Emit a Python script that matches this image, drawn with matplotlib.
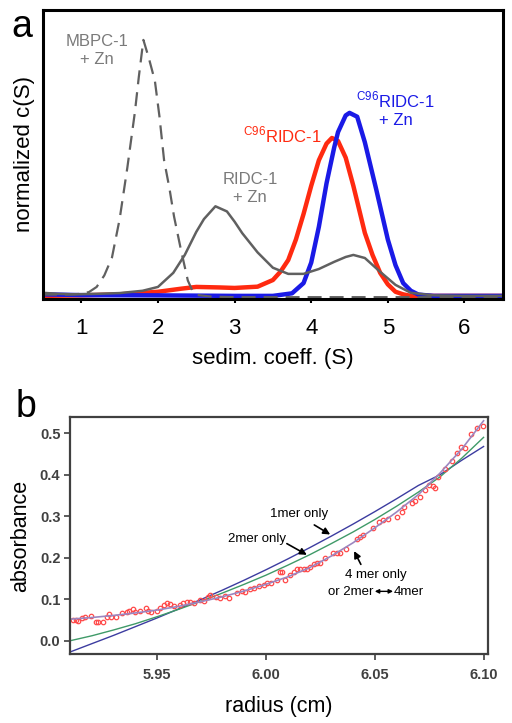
import matplotlib
matplotlib.use("Agg")
import matplotlib.pyplot as plt

plt.rcParams['font.family'] = ['Liberation Sans', 'DejaVu Sans']
plt.rcParams['mathtext.fontset'] = 'custom'
plt.rcParams['mathtext.rm'] = 'Liberation Sans'

# ---- panel a: c(S) distributions ----
mbpc_s = [0.5, 0.8, 1.0, 1.1, 1.2, 1.3, 1.4, 1.5, 1.6, 1.7, 1.75, 1.81, 1.88, 1.96, 2.02,
          2.08, 2.15, 2.21, 2.3, 2.39, 2.45, 2.5, 2.7, 3.0, 4.0, 5.0, 6.5]
mbpc_c = [0.005, 0.005, 0.008, 0.015, 0.035, 0.08, 0.15, 0.30, 0.50, 0.72, 0.855, 1.0, 0.93,
          0.84, 0.70, 0.53, 0.42, 0.31, 0.18, 0.06, 0.02, 0.004, -0.003, -0.005, -0.005, -0.005, -0.005]

ridc_s = [0.5, 0.7, 0.9, 1.2, 1.5, 1.8, 2.0, 2.2, 2.35, 2.5, 2.6, 2.75, 2.9, 3.0, 3.1, 3.3, 3.5,
          3.7, 3.9, 4.1, 4.3, 4.45, 4.55, 4.7, 4.9, 5.1, 5.3, 5.6, 6.0, 6.5]
ridc_c = [0.012, 0.008, 0.006, 0.008, 0.011, 0.02, 0.035, 0.09, 0.16, 0.25, 0.30, 0.35, 0.33,
          0.29, 0.245, 0.17, 0.11, 0.086, 0.086, 0.105, 0.133, 0.152, 0.16, 0.148, 0.094, 0.043,
          0.012, 0.002, 0.0, 0.0]

c96_s = [0.5, 1.0, 1.5, 2.0, 2.3, 2.5, 2.8, 3.0, 3.3, 3.5, 3.6, 3.7, 3.8, 3.9, 4.0, 4.1, 4.2,
         4.27, 4.35, 4.45, 4.55, 4.7, 4.8, 4.9, 5.0, 5.1, 5.2, 5.3, 5.5, 6.5]
c96_c = [0.0, 0.002, 0.006, 0.016, 0.028, 0.035, 0.033, 0.031, 0.036, 0.062, 0.095, 0.14, 0.22,
         0.32, 0.43, 0.53, 0.595, 0.617, 0.605, 0.54, 0.43, 0.246, 0.16, 0.09, 0.045, 0.016,
         0.006, 0.0, 0.0, 0.0]

c96zn_s = [0.5, 1.0, 2.0, 2.5, 3.0, 3.5, 3.75, 3.9, 4.0, 4.05, 4.1, 4.2, 4.3, 4.35, 4.45, 4.5,
           4.6, 4.7, 4.85, 5.0, 5.1, 5.2, 5.3, 5.4, 5.6, 6.5]
c96zn_c = [0.006, 0.003, 0.002, 0.001, 0.0, 0.0, 0.01, 0.05, 0.13, 0.2, 0.27, 0.44, 0.58, 0.64,
           0.705, 0.715, 0.70, 0.60, 0.414, 0.22, 0.12, 0.05, 0.02, 0.005, 0.0, 0.0]

# ---- panel b: absorbance scan and fits ----
radius = [5.9115, 5.9125, 5.9136, 5.9156, 5.917, 5.9197, 5.9217, 5.923, 5.925, 5.927, 5.928,
          5.929, 5.931, 5.934, 5.936, 5.937, 5.939, 5.940, 5.942, 5.9447, 5.946, 5.947, 5.9497,
          5.9515, 5.953, 5.9546, 5.956, 5.9576, 5.9607, 5.962, 5.9638, 5.965, 5.9668, 5.9696,
          5.9717, 5.9732, 5.9745, 5.9768, 5.9787, 5.9813, 5.9829, 5.9867, 5.989, 5.9905, 5.9925,
          5.9947, 5.9966, 5.999, 6.0005, 6.0023, 6.005, 6.0063, 6.0073, 6.0089, 6.0112, 6.0127,
          6.0142, 6.0157, 6.0173, 6.0188, 6.0203, 6.0219, 6.0234, 6.0249, 6.0272, 6.031, 6.0326,
          6.034, 6.0368, 6.0417, 6.0433, 6.0448, 6.0491, 6.052, 6.054, 6.056, 6.060, 6.0624,
          6.0635, 6.067, 6.0685, 6.071, 6.073, 6.075, 6.0766, 6.0777, 6.0792, 6.0823, 6.0853,
          6.0876, 6.0894, 6.0914, 6.094, 6.0968, 6.0998]
absorb = [0.051, 0.050, 0.047, 0.054, 0.058, 0.059, 0.046, 0.046, 0.046, 0.058, 0.064, 0.058,
          0.058, 0.066, 0.070, 0.072, 0.076, 0.070, 0.072, 0.080, 0.072, 0.070, 0.072, 0.080,
          0.086, 0.090, 0.088, 0.084, 0.086, 0.090, 0.093, 0.093, 0.090, 0.098, 0.096, 0.106,
          0.110, 0.106, 0.104, 0.108, 0.102, 0.116, 0.121, 0.118, 0.124, 0.126, 0.132, 0.134,
          0.140, 0.140, 0.146, 0.166, 0.165, 0.146, 0.158, 0.166, 0.172, 0.172, 0.173, 0.174,
          0.178, 0.185, 0.188, 0.188, 0.199, 0.211, 0.212, 0.211, 0.220, 0.244, 0.249, 0.254,
          0.271, 0.285, 0.291, 0.293, 0.297, 0.311, 0.323, 0.333, 0.337, 0.347, 0.363, 0.375,
          0.373, 0.367, 0.395, 0.413, 0.434, 0.452, 0.466, 0.464, 0.498, 0.512, 0.518]

r_fit = [5.91, 5.92, 5.93, 5.94, 5.95, 5.96, 5.97, 5.98, 5.99, 6.00, 6.01, 6.02, 6.03, 6.04,
         6.05, 6.06, 6.07, 6.08, 6.09, 6.10]
fit_1mer = [-0.027, -0.007, 0.013, 0.034, 0.055, 0.077, 0.099, 0.122, 0.146, 0.171, 0.197,
            0.224, 0.252, 0.281, 0.311, 0.342, 0.374, 0.40, 0.435, 0.468]
fit_2mer = [0.0, 0.012, 0.026, 0.041, 0.058, 0.076, 0.095, 0.115, 0.136, 0.158, 0.182, 0.207,
            0.234, 0.262, 0.292, 0.324, 0.358, 0.395, 0.44, 0.49]
fit_4mer = [0.052, 0.056, 0.061, 0.067, 0.074, 0.083, 0.094, 0.106, 0.12, 0.136, 0.154, 0.176,
            0.204, 0.236, 0.272, 0.31, 0.352, 0.404, 0.462, 0.53]

fig = plt.figure(figsize=(5.12, 7.23), dpi=100)

# panel a
ax1 = fig.add_axes([0.084, 0.5865, 0.898, 0.3997])
ax1.plot(c96_s, c96_c, color='#ff2a10', lw=3.2)
ax1.plot(c96zn_s, c96zn_c, color='#1a1ae6', lw=3.2)
ax1.plot(ridc_s, ridc_c, color='#606060', lw=1.8)
ax1.plot(mbpc_s, mbpc_c, color='#606060', lw=1.6, dashes=(6.3, 3.6))
ax1.set_xlim(0.5, 6.5)
ax1.set_ylim(-0.012, 1.117)
ax1.set_yticks([])
ax1.set_xticks([1, 2, 3, 4, 5, 6])
ax1.tick_params(axis='x', labelsize=16, length=3, width=1.5, pad=11)
for sp in ax1.spines.values():
    sp.set_linewidth(2.2)
ax1.set_xlabel('sedim. coeff. (S)', fontsize=16, labelpad=6)
ax1.set_ylabel('normalized c(S)', fontsize=16, labelpad=6)
ax1.text(1.2, 0.96, 'MBPC-1\n+ Zn', color='#7a7a7a', fontsize=12, ha='center', va='center',
         linespacing=1.25)
ax1.text(3.2, 0.42, 'RIDC-1\n+ Zn', color='#7a7a7a', fontsize=12, ha='center', va='center',
         linespacing=1.25)
ax1.text(3.62, 0.63, r'$^{\mathrm{C96}}$RIDC-1', color='#ff2a10', fontsize=12, ha='center',
         va='center')
ax1.text(5.1, 0.73, r'$^{\mathrm{C96}}$RIDC-1' + '\n+ Zn', color='#1a1ae6', fontsize=12,
         ha='center', va='center', linespacing=1.25)
fig.text(0.042, 0.962, 'a', fontsize=27, ha='center', va='center')

# panel b
ax2 = fig.add_axes([0.137, 0.0954, 0.816, 0.3278])
ax2.plot(r_fit, fit_1mer, color='#3c3ca0', lw=1.0)
ax2.plot(r_fit, fit_2mer, color='#3f9a68', lw=1.0)
ax2.plot(radius, absorb, 'o', mfc='none', mec='#ff4a4a', ms=3.2, mew=0.9)
ax2.plot(r_fit, fit_4mer, color='#9c86c0', lw=1.2)
ax2.set_xlim(5.910, 6.102)
ax2.set_ylim(-0.032, 0.539)
ax2.set_xticks([5.95, 6.00, 6.05, 6.10])
ax2.set_xticklabels(['5.95', '6.00', '6.05', '6.10'])
ax2.set_yticks([0.0, 0.1, 0.2, 0.3, 0.4, 0.5])
ax2.set_yticklabels(['0.0', '0.1', '0.2', '0.3', '0.4', '0.5'])
ax2.tick_params(labelsize=10.5, length=4, width=1.2, colors='#404040', pad=3)
ax2.tick_params(axis='x', pad=6)
for lab in ax2.get_xticklabels() + ax2.get_yticklabels():
    lab.set_fontweight('bold')
for sp in ax2.spines.values():
    sp.set_linewidth(1.6)
    sp.set_color('#404040')
ax2.set_xlabel('radius (cm)', fontsize=15.5, labelpad=10)
ax2.set_ylabel('absorbance', fontsize=15.5, labelpad=6)

arrow = dict(arrowstyle='-|>', color='black', lw=1.2, mutation_scale=10, shrinkA=0, shrinkB=0)
ax2.text(6.015, 0.305, '1mer only', fontsize=9.5, ha='center', va='center')
ax2.annotate('', xy=(6.0295, 0.256), xytext=(6.0222, 0.279), arrowprops=arrow)
ax2.text(5.996, 0.244, '2mer only', fontsize=9.5, ha='center', va='center')
ax2.annotate('', xy=(6.0188, 0.207), xytext=(6.0096, 0.234), arrowprops=arrow)
ax2.text(6.0506, 0.158, '4 mer only', fontsize=9.5, ha='center', va='center')
ax2.annotate('', xy=(6.0405, 0.216), xytext=(6.0436, 0.184), arrowprops=arrow)
ax2.text(6.0494, 0.118, 'or 2mer', fontsize=9.5, ha='right', va='center')
ax2.text(6.0589, 0.118, '4mer', fontsize=9.5, ha='left', va='center')
ax2.annotate('', xy=(6.0584, 0.119), xytext=(6.0500, 0.119),
             arrowprops=dict(arrowstyle='<|-|>', color='black', lw=1.0, mutation_scale=6,
                             shrinkA=0, shrinkB=0))
fig.text(0.05, 0.437, 'b', fontsize=27, ha='center', va='center')

fig.savefig('out.png', dpi=100)
